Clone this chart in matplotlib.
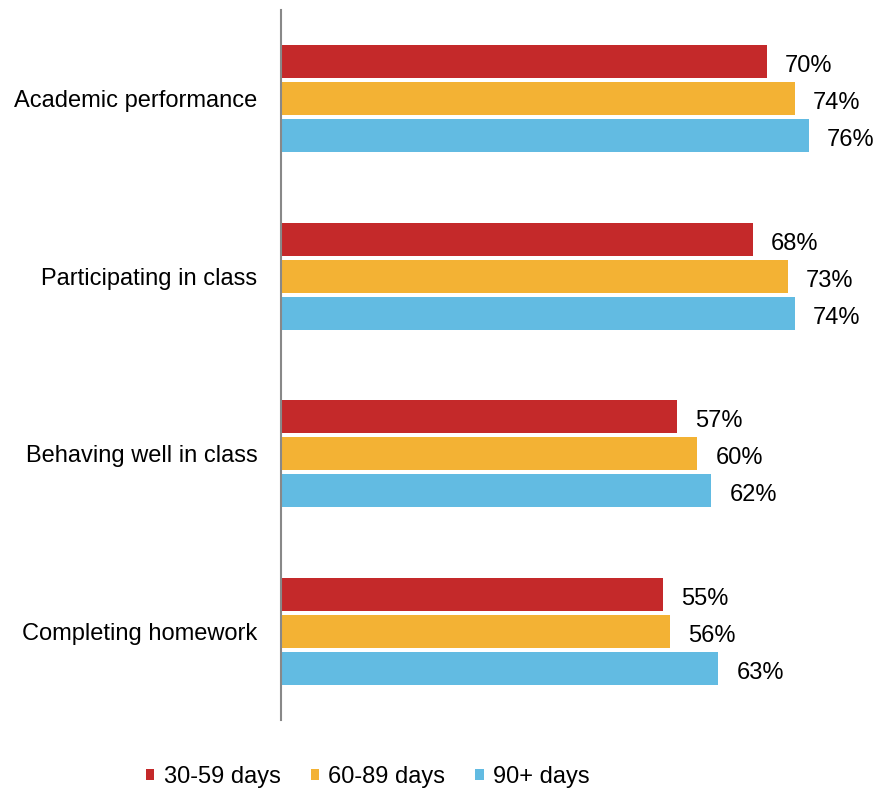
import matplotlib
matplotlib.use("Agg")
import matplotlib.pyplot as plt
import numpy as np

categories = ["Academic performance", "Participating in class",
              "Behaving well in class", "Completing homework"]
series_names = ["30-59 days", "60-89 days", "90+ days"]
days_30_59 = [70, 68, 57, 55]
days_60_89 = [74, 73, 60, 56]
days_90_plus = [76, 74, 62, 63]
colors = ["#C4292A", "#F3B234", "#62BBE2"]

plt.rcParams["font.family"] = ["Liberation Sans", "DejaVu Sans"]

fig = plt.figure(figsize=(8.79, 7.92), dpi=100)
ax = fig.add_axes([281 / 879, 72 / 792, 590 / 879, 710 / 792])

y = np.arange(len(categories))
offsets = [-0.208, 0.0, 0.208]
height = 0.186
for vals, off, col, name in zip([days_30_59, days_60_89, days_90_plus], offsets, colors, series_names):
    bars = ax.barh(y + off, vals, height=height, color=col, label=name)
    for b, v in zip(bars, vals):
        ax.text(v + 2.6, b.get_y() + b.get_height() / 2 + 0.025, f"{v}%",
                va="center", ha="left", fontsize=17, color="black")

ax.set_xlim(0, 85)
ax.set_ylim(3.5, -0.5)
ax.set_yticks(y)
ax.set_yticklabels(categories, fontsize=17)
ax.tick_params(axis="y", length=0, pad=17)
ax.set_xticks([])
for side in ["top", "right", "bottom"]:
    ax.spines[side].set_visible(False)
ax.spines["left"].set_color("#888888")
ax.spines["left"].set_linewidth(1.5)

fig.legend(loc="center", bbox_to_anchor=(368 / 879, 1 - 777 / 792), ncol=3,
           frameon=False, fontsize=17, handlelength=0.35, handleheight=0.35,
           handletextpad=0.4, columnspacing=1.27)

fig.savefig("out.png", dpi=100)
